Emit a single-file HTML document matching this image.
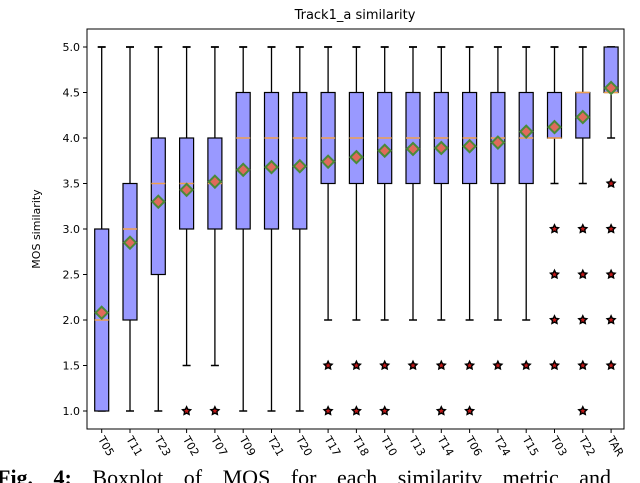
<!DOCTYPE html>
<html><head><meta charset="utf-8"><style>
body{margin:0;background:#fff;width:640px;height:483px;overflow:hidden}
svg{display:block}
</style></head><body>
<svg id="chart" width="640" height="483" xmlns="http://www.w3.org/2000/svg" font-family="'DejaVu Sans', 'Liberation Sans', sans-serif">
<text x="355" y="19" font-size="13" text-anchor="middle">Track1_a similarity</text>
<text transform="translate(40,229) rotate(-90)" font-size="11" text-anchor="middle">MOS similarity</text>
<g id="plot"></g>
<rect x="87" y="29" width="537" height="400" fill="none" stroke="#000" stroke-width="1"/>
<text x="-3" y="485" font-family="'Liberation Serif', serif" font-size="22" word-spacing="15"><tspan font-weight="bold">Fig. 4:</tspan> Boxplot of MOS for each similarity metric and</text>
</svg>
<script>
const categories=["T05","T11","T23","T02","T07","T09","T21","T20","T17","T18","T10","T13","T14","T06","T24","T15","T03","T22","TAR"];
const q1=[1,2,2.5,3,3,3,3,3,3.5,3.5,3.5,3.5,3.5,3.5,3.5,3.5,4,4,4.5];
const medians=[2,3,3.5,3.5,3.5,4,4,4,4,4,4,4,4,4,4,4,4,4.5,4.5];
const q3=[3,3.5,4,4,4,4.5,4.5,4.5,4.5,4.5,4.5,4.5,4.5,4.5,4.5,4.5,4.5,4.5,5];
const whiskerLow=[1,1,1,1.5,1.5,1,1,1,2,2,2,2,2,2,2,2,3.5,3.5,4];
const whiskerHigh=[5,5,5,5,5,5,5,5,5,5,5,5,5,5,5,5,5,5,5];
const means=[2.08,2.85,3.3,3.43,3.52,3.65,3.68,3.69,3.74,3.79,3.86,3.88,3.89,3.91,3.95,4.07,4.12,4.23,4.55];
const outliers=[[],[],[],[1],[1],[],[],[],[1.5,1],[1.5,1],[1.5,1],[1.5],[1.5,1],[1.5,1],[1.5],[1.5],[3,2.5,2,1.5],[3,2.5,2,1.5,1],[3.5,3,2.5,2,1.5]];
const yTicks=["1.0","1.5","2.0","2.5","3.0","3.5","4.0","4.5","5.0"];

const NS="http://www.w3.org/2000/svg";
const svg=document.getElementById('chart');
const plot=document.getElementById('plot');
const x0=101.7,dx=28.3;
function xs(i){return x0+i*dx;}
function ys(v){return 411-(v-1)*91;}
function mk(tag,attrs,parent){const e=document.createElementNS(NS,tag);for(const k in attrs)e.setAttribute(k,attrs[k]);(parent||plot).appendChild(e);return e;}
function star(cx,cy,r){let p=[];for(let k=0;k<10;k++){const a=-Math.PI/2+k*Math.PI/5;const rr=k%2?r*0.5:r;p.push((cx+rr*Math.cos(a)).toFixed(1)+','+(cy+rr*Math.sin(a)).toFixed(1));}return p.join(' ');}

yTicks.forEach(t=>{
  const y=ys(parseFloat(t));
  const l=mk('line',{x1:83,x2:87,y1:y,y2:y,stroke:'#000'},svg);
  
  
  const tx=mk('text',{x:80,y:y+4,'font-size':11,'text-anchor':'end'},svg);
  tx.textContent=t;
  
  
});

categories.forEach((c,i)=>{
  const x=xs(i),w=14;
  const g=mk('g',{});
  
  
  mk('line',{x1:x,x2:x,y1:ys(whiskerLow[i]),y2:ys(q1[i]),stroke:'#000','stroke-width':1.3},g);
  mk('line',{x1:x,x2:x,y1:ys(q3[i]),y2:ys(whiskerHigh[i]),stroke:'#000','stroke-width':1.3},g);
  mk('line',{x1:x-4,x2:x+4,y1:ys(whiskerLow[i]),y2:ys(whiskerLow[i]),stroke:'#000','stroke-width':1.5},g);
  mk('line',{x1:x-4,x2:x+4,y1:ys(whiskerHigh[i]),y2:ys(whiskerHigh[i]),stroke:'#000','stroke-width':1.8},g);
  mk('rect',{x:x-w/2,y:ys(q3[i]),width:w,height:ys(q1[i])-ys(q3[i]),fill:'#9999ff',stroke:'#000','stroke-width':1.2},g);
  mk('line',{x1:x-w/2,x2:x+w/2,y1:ys(medians[i]),y2:ys(medians[i]),stroke:'#f0a050','stroke-width':1.5},g);
  outliers[i].forEach(v=>{
    const s=mk('polygon',{points:star(x,ys(v),4.2),fill:'#c01818',stroke:'#000','stroke-width':1.4},g);
    
    
  });
  const m=ys(means[i]);
  const d=mk('polygon',{points:`${x},${m-6} ${x+6},${m} ${x},${m+6} ${x-6},${m}`,fill:'#e06a5a',stroke:'#4a8a3a','stroke-width':2},g);
  
  
  const t=mk('line',{x1:x,x2:x,y1:429,y2:433,stroke:'#000'},svg);
  
  
  const lb=mk('text',{x:0,y:0,'font-size':11,transform:`translate(${x-4},${439}) rotate(60)`},svg);
  lb.textContent=c;
  
  
});
</script>
</body></html>
